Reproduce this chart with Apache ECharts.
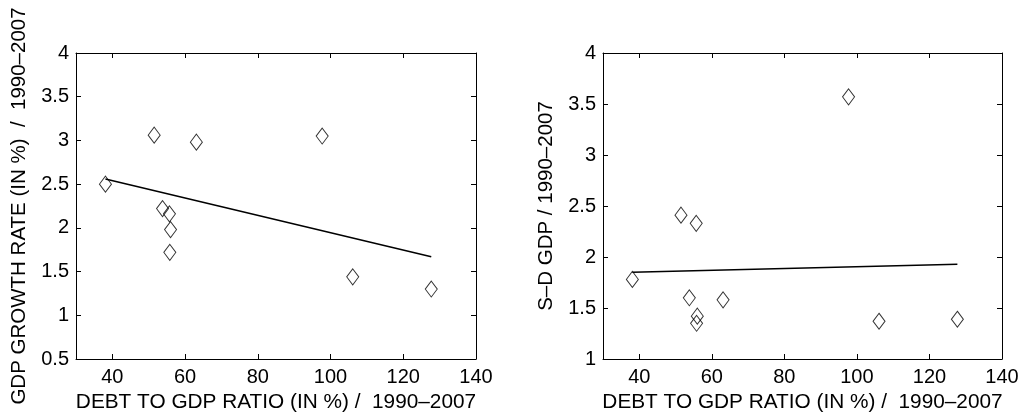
<!DOCTYPE html>
<html>
<head>
<meta charset="utf-8">
<script src="https://cdn.jsdelivr.net/npm/echarts@6/dist/echarts.min.js"></script>
<style>
html,body{margin:0;padding:0;background:#fff;}
#chart{width:1026px;height:419px;}
</style>
</head>
<body>
<div id="chart"></div>
<script>
// ---- data ----
const debtRatio = [38.1, 51.5, 53.8, 55.7, 55.8, 56.0, 63.1, 97.7, 106.1, 127.7];
const gdpGrowth = [2.50, 3.06, 2.22, 2.16, 1.72, 1.98, 2.98, 3.05, 1.44, 1.30];
const sdGdp     = [1.78, 2.41, 1.60, 2.33, 1.35, 1.42, 1.58, 3.57, 1.37, 1.39];
const trendX      = [38.1, 127.7];
const growthTrend = [2.56, 1.67];
const sdTrend     = [1.85, 1.93];
const xTicks = [40, 60, 80, 100, 120, 140];
const xTitle = 'DEBT TO GDP RATIO (IN %) /  1990\u20132007';
const yTitleLeft = 'GDP GROWTH RATE (IN %)  /  1990\u20132007';
const yTitleRight = 'S\u2013D GDP / 1990\u20132007';

const FONT = '"Liberation Sans", Arial, Helvetica, sans-serif';
const pairs = (xs, ys) => xs.map((x, i) => [x, ys[i]]);

function xAxisDef(gi, pos, showLabel, name) {
  return {
    type: 'value', gridIndex: gi, position: pos, min: 30, max: 140, interval: 10,
    name: name || '', nameLocation: 'middle', nameGap: 32,
    nameTextStyle: {color: '#000', fontSize: 20.8, fontFamily: FONT},
    axisLine: {show: true, onZero: false, lineStyle: {color: '#000', width: 1}},
    axisTick: {show: true, inside: true, length: 5, customValues: xTicks, lineStyle: {color: '#000'}},
    axisLabel: {show: showLabel, customValues: xTicks, color: '#000', fontSize: 20, fontFamily: FONT, margin: 8},
    splitLine: {show: false}
  };
}
function yAxisDef(gi, pos, showLabel, min, name) {
  return {
    type: 'value', gridIndex: gi, position: pos, min: min, max: 4, interval: 0.5,
    name: name || '', nameLocation: 'middle', nameGap: 46, nameRotate: 90,
    nameTextStyle: {color: '#000', fontSize: 20.5, fontFamily: FONT},
    axisLine: {show: true, onZero: false, lineStyle: {color: '#000', width: 1}},
    axisTick: {show: true, inside: true, length: 5, lineStyle: {color: '#000'}},
    axisLabel: {show: showLabel, color: '#000', fontSize: 20, fontFamily: FONT, margin: 7},
    splitLine: {show: false}
  };
}

const scatterStyle = {
  type: 'scatter', symbol: 'diamond', symbolSize: [12, 16],
  itemStyle: {color: 'rgba(255,255,255,0)', borderColor: '#000', borderWidth: 1},
  z: 3
};
const lineStyle = {
  type: 'line', showSymbol: false, symbol: 'none',
  lineStyle: {color: '#000', width: 1.5}, z: 2
};

const chart = echarts.init(document.getElementById('chart'), null, {renderer: 'canvas'});
chart.setOption({
  animation: false,
  backgroundColor: '#fff',
  textStyle: {fontFamily: FONT},
  grid: [
    {left: 76, top: 53, width: 400, height: 306},
    {left: 603, top: 53, width: 399, height: 306}
  ],
  xAxis: [
    xAxisDef(0, 'bottom', true, xTitle),
    xAxisDef(0, 'top', false),
    xAxisDef(1, 'bottom', true, xTitle),
    xAxisDef(1, 'top', false)
  ],
  yAxis: [
    yAxisDef(0, 'left', true, 0.5, yTitleLeft),
    yAxisDef(0, 'right', false, 0.5),
    yAxisDef(1, 'left', true, 1, yTitleRight),
    yAxisDef(1, 'right', false, 1)
  ],
  series: [
    Object.assign({}, lineStyle, {xAxisIndex: 0, yAxisIndex: 0, data: pairs(trendX, growthTrend)}),
    Object.assign({}, scatterStyle, {xAxisIndex: 0, yAxisIndex: 0, data: pairs(debtRatio, gdpGrowth)}),
    Object.assign({}, lineStyle, {xAxisIndex: 2, yAxisIndex: 2, data: pairs(trendX, sdTrend)}),
    Object.assign({}, scatterStyle, {xAxisIndex: 2, yAxisIndex: 2, data: pairs(debtRatio, sdGdp)})
  ]
});
</script>
</body>
</html>
